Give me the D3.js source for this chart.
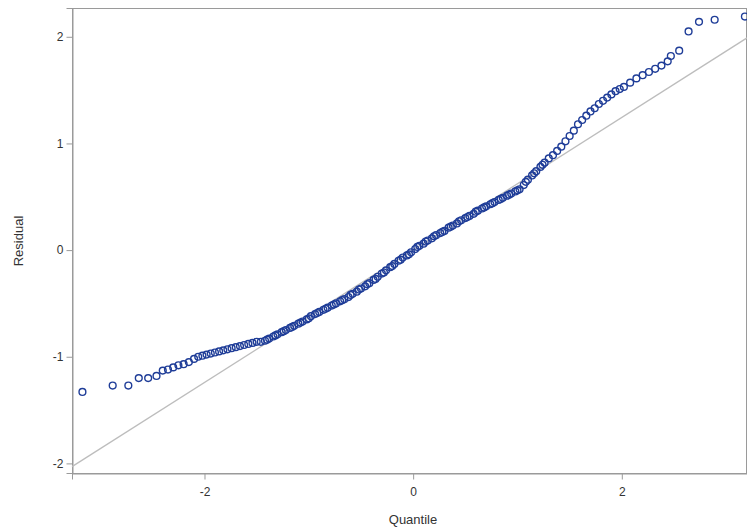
<!DOCTYPE html>
<html><head><meta charset="utf-8">
<script src="https://cdn.jsdelivr.net/npm/d3@7"></script>
<style>body{margin:0;background:#fff}text{font-family:Arial,"Liberation Sans",sans-serif}</style>
</head><body><svg id="c" width="747" height="528"></svg>
<script>
const quantiles = [-3.17,-2.88,-2.73,-2.63,-2.54,-2.46,-2.40,-2.35,-2.30,-2.25,-2.20,-2.15,-2.10,-2.06,-2.02,-1.98,-1.94,-1.90,-1.86,-1.82,-1.78,-1.74,-1.70,-1.66,-1.62,-1.58,-1.54,-1.50,-1.46,-1.42,-1.38,-1.34,-1.30,-1.26,-1.22,-1.18,-1.14,-1.10,-1.06,-1.02,-0.98,-0.94,-0.90,-0.86,-0.82,-0.78,-0.74,-0.70,-0.66,-0.62,-0.58,-0.54,-0.50,-0.46,-0.42,-0.38,-0.34,-0.30,-0.26,-0.22,-0.18,-0.14,-0.10,-0.06,-0.02,
0.02,0.06,0.10,0.14,0.18,0.22,0.26,0.30,0.34,0.38,0.42,0.46,0.50,0.54,0.58,0.62,0.66,0.70,0.74,0.78,0.82,0.86,0.90,0.94,0.98,
1.02,1.06,1.10,1.14,1.18,1.22,1.26,1.30,1.34,1.38,1.42,1.46,1.50,1.54,1.58,1.62,1.66,1.70,1.74,1.78,1.82,1.86,1.90,1.94,1.98,
2.02,2.08,2.14,2.20,2.26,2.32,2.38,2.44,2.47,2.55,2.64,2.74,2.89,3.18];
const residuals = [-1.33,-1.27,-1.27,-1.20,-1.20,-1.18,-1.13,-1.12,-1.10,-1.08,-1.07,-1.05,-1.02,-1.00,-0.99,-0.98,-0.97,-0.96,-0.95,-0.94,-0.93,-0.92,-0.91,-0.90,-0.89,-0.88,-0.87,-0.86,-0.86,-0.85,-0.83,-0.81,-0.79,-0.77,-0.75,-0.73,-0.71,-0.69,-0.67,-0.65,-0.62,-0.60,-0.58,-0.56,-0.54,-0.52,-0.50,-0.48,-0.46,-0.44,-0.41,-0.39,-0.36,-0.34,-0.31,-0.28,-0.25,-0.22,-0.19,-0.16,-0.13,-0.10,-0.07,-0.05,-0.02,
0.01,0.04,0.06,0.09,0.11,0.14,0.16,0.18,0.21,0.23,0.25,0.28,0.30,0.32,0.34,0.37,0.39,0.41,0.43,0.45,0.47,0.49,0.51,0.53,0.55,
0.57,0.61,0.66,0.70,0.74,0.78,0.82,0.86,0.89,0.93,0.97,1.02,1.07,1.12,1.18,1.22,1.26,1.30,1.33,1.37,1.40,1.43,1.46,1.49,1.51,
1.53,1.57,1.61,1.64,1.67,1.70,1.73,1.77,1.82,1.87,2.05,2.14,2.16,2.19];
// extra observations in the dense central band
const quantiles2 = [-1.40,-1.32,-1.24,-1.16,-1.08,-1.00,-0.92,-0.84,-0.76,-0.68,-0.60,-0.52,-0.44,-0.36,-0.28,-0.20,-0.12,-0.04,0.04,0.12,0.20,0.28,0.36,0.44,0.52,0.60,0.68,0.76,0.84,0.92,1.00,1.08,1.16,1.24];
const residuals2 = [-0.84,-0.80,-0.76,-0.72,-0.68,-0.64,-0.59,-0.55,-0.51,-0.47,-0.42,-0.37,-0.32,-0.27,-0.21,-0.15,-0.09,-0.04,0.03,0.08,0.13,0.17,0.22,0.27,0.31,0.36,0.40,0.44,0.48,0.52,0.56,0.64,0.72,0.80];
const xTicks = [-2,0,2];
const yTicks = [-2,-1,0,1,2];
const refLine = [[-3.27,-2.03],[3.2,1.99]];

const svg = d3.select("#c");
const L=72,R=747,T=8,B=473;
const x = d3.scaleLinear().domain([-3.27,3.2]).range([L,R]);
const y = d3.scaleLinear().domain([-2.09,2.27]).range([B,T]);
const grey="#9a9a9a";
svg.append("rect").attr("x",L+0.5).attr("y",T+0.5).attr("width",R-L-1).attr("height",B-T).attr("fill","none").attr("stroke",grey);
const xa = svg.append("g").attr("transform",`translate(0,${B+0.5})`).call(d3.axisBottom(x).tickValues(xTicks).tickSize(6).tickFormat(d=>String(d)));
const ya = svg.append("g").attr("transform",`translate(${L+0.5},0)`).call(d3.axisLeft(y).tickValues(yTicks).tickSize(6).tickFormat(d=>String(d)));
[xa,ya].forEach(a=>{a.select(".domain").attr("stroke",grey);a.selectAll("line").attr("stroke",grey);a.selectAll("text").attr("font-size",12).attr("fill","#333")});
xa.selectAll("text").attr("dy","1.1em");
svg.append("line").attr("x1",x(refLine[0][0])).attr("y1",y(refLine[0][1])).attr("x2",x(refLine[1][0])).attr("y2",y(refLine[1][1])).attr("stroke","#bdbdbd").attr("stroke-width",1.3);
const pts = quantiles.map((q,i)=>[q,residuals[i]]).concat(quantiles2.map((q,i)=>[q,residuals2[i]]));
svg.append("g").selectAll("circle").data(pts).join("circle")
 .attr("cx",d=>x(d[0])).attr("cy",d=>y(d[1])).attr("r",3.4).attr("fill","none").attr("stroke","#1f3d98").attr("stroke-width",1.4);
svg.append("text").attr("x",413).attr("y",524).attr("text-anchor","middle").attr("font-size",13).attr("fill","#333").text("Quantile");
svg.append("text").attr("transform","translate(23,241) rotate(-90)").attr("text-anchor","middle").attr("font-size",13).attr("fill","#333").text("Residual");
</script></body></html>
